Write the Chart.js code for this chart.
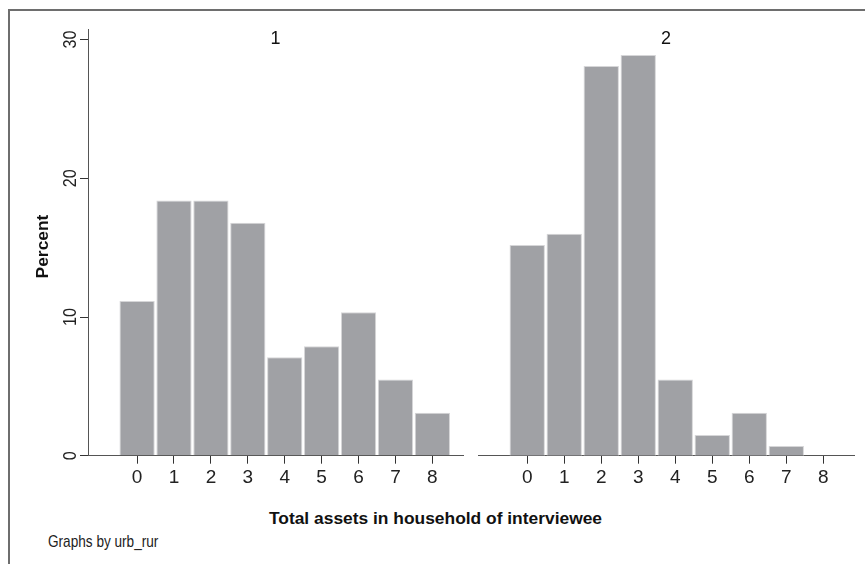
<!DOCTYPE html>
<html>
<head>
<meta charset="utf-8">
<script src="https://cdn.jsdelivr.net/npm/chart.js@4/dist/chart.umd.min.js"></script>
<style>
  html, body { margin: 0; padding: 0; background: #fff; }
  #page { position: relative; width: 865px; height: 564px; overflow: hidden; background: #fff; }
  #frame { position: absolute; left: 8px; top: 9px; width: 900px; height: 600px;
           border-left: 2px solid #6e6e6e; border-top: 2px solid #6e6e6e; }
  canvas { position: absolute; top: 0; }
  #cLeft { left: 0; }
  #cRight { left: 470px; }
  .txt { position: absolute; white-space: nowrap; line-height: 1; color: #111; }
  #xtitle { left: 135px; width: 601px; top: 508px; text-align: center;
            font: bold 17.4px "Liberation Sans", Arial, sans-serif; }
  #note { left: 48px; top: 532px; font: 17px "Liberation Sans", Arial, sans-serif; color: #222;
          transform: scaleX(0.8); transform-origin: 0 0; }
</style>
</head>
<body>
<div id="page">
  <div id="frame"></div>
  <canvas id="cLeft" width="470" height="500"></canvas>
  <canvas id="cRight" width="395" height="500"></canvas>
  <div class="txt" id="xtitle">Total assets in household of interviewee</div>
  <div class="txt" id="note">Graphs by urb_rur</div>
</div>
<script>
// Total assets (0-8) by urban/rural group, percent of households
const assetCounts = [0, 1, 2, 3, 4, 5, 6, 7, 8];
const group1Pct = [11.15, 18.4, 18.4, 16.8, 7.1, 7.9, 10.35, 5.5, 3.1];
const group2Pct = [15.2, 16.0, 28.1, 28.9, 5.5, 1.5, 3.1, 0.7, 0];
const panelTitles = ['1', '2'];
const xTickValues = [0, 1, 2, 3, 4, 5, 6, 7, 8];
const yTickValues = [0, 10, 20, 30];
const yAxisTitle = 'Percent';

const sans = '"Liberation Sans", Arial, sans-serif';
const BAR_FILL = '#a0a1a5';
const BAR_EDGE = '#d6d6d8';
const AXIS = '#555555';
const TICK = '#333333';
const TICK_FONT_SIZE = 19;

function toPoints(vals) {
  return assetCounts.map((c, i) => ({ x: c, y: vals[i] }));
}

// panel heading drawn just above the plot region
function panelTitlePlugin(text) {
  return {
    id: 'panelTitle',
    afterDraw(chart) {
      const { ctx, chartArea } = chart;
      ctx.save();
      ctx.font = '18px ' + sans;
      ctx.fillStyle = '#111';
      ctx.textAlign = 'center';
      ctx.textBaseline = 'alphabetic';
      ctx.fillText(text, (chartArea.left + chartArea.right) / 2, 43.5);
      ctx.restore();
    }
  };
}

// y tick labels written vertically (reading upward) plus the axis title
const rotatedYLabels = {
  id: 'rotatedYLabels',
  afterDraw(chart) {
    const { ctx } = chart;
    const y = chart.scales.y;
    ctx.save();
    ctx.fillStyle = '#222';
    ctx.textAlign = 'center';
    ctx.textBaseline = 'middle';
    ctx.font = TICK_FONT_SIZE + 'px ' + sans;
    yTickValues.forEach(v => {
      const py = y.getPixelForValue(v);
      ctx.save();
      ctx.translate(70.5, py);
      ctx.rotate(-Math.PI / 2);
      ctx.scale(0.85, 1);
      ctx.fillText(String(v), 0, 0);
      ctx.restore();
    });
    ctx.fillStyle = '#111';
    ctx.font = 'bold 17.4px ' + sans;
    ctx.translate(43.5, 246.5);
    ctx.rotate(-Math.PI / 2);
    ctx.fillText(yAxisTitle, 0, 0);
    ctx.restore();
  }
};

function xScale() {
  return {
    type: 'linear',
    min: -1.33,
    max: 8.83,
    offset: false,
    z: 1,
    afterBuildTicks: s => { s.ticks = xTickValues.map(v => ({ value: v })); },
    afterFit: s => { s.height = 44.3; },
    grid: { offset: false, drawOnChartArea: false, drawTicks: true, tickLength: 8,
            color: TICK, tickColor: TICK, tickWidth: 1 },
    border: { display: true, color: AXIS, width: 1 },
    ticks: { font: { family: sans, size: TICK_FONT_SIZE }, color: '#222', padding: 3,
             maxRotation: 0, autoSkip: false, callback: v => String(v) }
  };
}

function yScale(showAxis) {
  return {
    type: 'linear',
    min: 0,
    max: 30.73,
    display: showAxis,
    z: 1,
    afterBuildTicks: s => { s.ticks = yTickValues.map(v => ({ value: v })); },
    afterFit: s => { if (showAxis) s.width = 88; },
    grid: { drawOnChartArea: false, drawTicks: true, tickLength: 8,
            color: TICK, tickColor: TICK, tickWidth: 1 },
    border: { display: true, color: AXIS, width: 1 },
    ticks: { display: false }
  };
}

function makeChart(id, vals, title, showY, pad) {
  return new Chart(document.getElementById(id), {
    type: 'bar',
    data: {
      datasets: [{
        data: toPoints(vals),
        backgroundColor: BAR_FILL,
        borderColor: BAR_EDGE,
        borderWidth: 1,
        categoryPercentage: 1,
        barPercentage: 0.955
      }]
    },
    options: {
      responsive: false,
      animation: false,
      events: [],
      layout: { padding: pad },
      plugins: { legend: { display: false }, tooltip: { enabled: false }, title: { display: false } },
      scales: { x: xScale(), y: yScale(showY) }
    },
    plugins: showY ? [panelTitlePlugin(title), rotatedYLabels] : [panelTitlePlugin(title)]
  });
}

makeChart('cLeft', group1Pct, panelTitles[0], true, { left: 0, right: 7, top: 29.5, bottom: 0 });
makeChart('cRight', group2Pct, panelTitles[1], false, { left: 8, right: 11, top: 29.5, bottom: 0 });
</script>
</body>
</html>
